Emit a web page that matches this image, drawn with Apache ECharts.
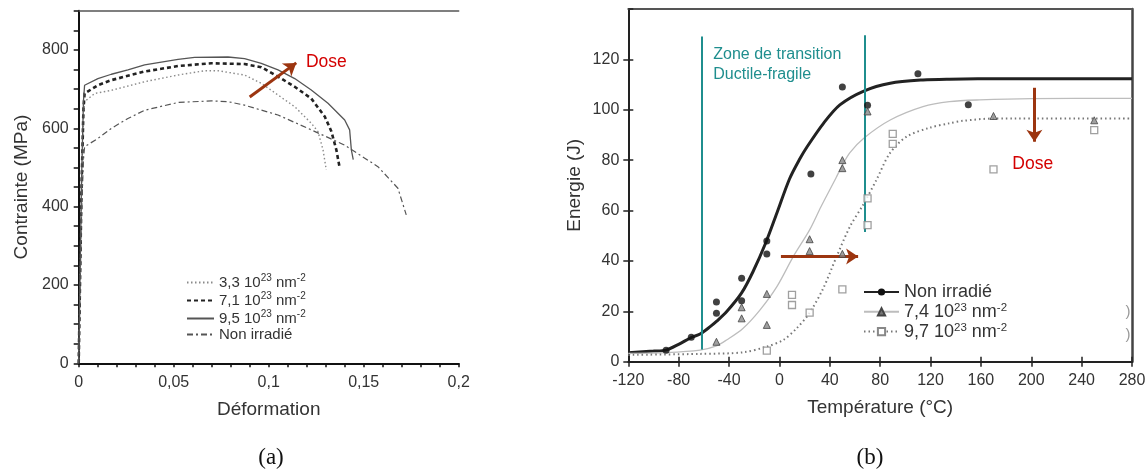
<!DOCTYPE html>
<html>
<head>
<meta charset="utf-8">
<script src="https://cdn.jsdelivr.net/npm/echarts@6/dist/echarts.min.js"></script>
<style>
  html, body { margin: 0; padding: 0; background: #fff; }
  #chart { width: 1148px; height: 470px; }
</style>
</head>
<body>
<div id="chart"></div>
<script>
// ---------- (a) Tensile curves : [strain, stress (MPa)] ----------
const strainTicks = ['0', '0,05', '0,1', '0,15', '0,2'];
const stressTicks = [0, 200, 400, 600, 800];

const curveDose33 = [[0,0],[0.0015,450],[0.0025,630],[0.0031,668],[0.0084,689],[0.0172,697],[0.0347,719],[0.0523,736],[0.0663,747],[0.0733,747],[0.0873,736],[0.0961,715],[0.1049,685],[0.1137,655],[0.1224,613],[0.1259,592],[0.1286,545],[0.1303,494]];
const curveDose71 = [[0,0],[0.0015,450],[0.0025,650],[0.0031,689],[0.0101,710],[0.0172,723],[0.0347,745],[0.0523,759],[0.0698,766],[0.0873,764],[0.0961,756],[0.1049,732],[0.1137,706],[0.1224,676],[0.1295,630],[0.1330,592],[0.1356,545],[0.1374,498]];
const curveDose95 = [[0,0],[0.0015,470],[0.0025,670],[0.0031,710],[0.0101,727],[0.0172,738],[0.0259,749],[0.0347,762],[0.0523,776],[0.0610,781],[0.0786,782],[0.0873,778],[0.0961,766],[0.1049,749],[0.1137,727],[0.1224,698],[0.1312,664],[0.1400,621],[0.1426,596],[0.1435,545],[0.1445,520]];
const curveUnirr = [[0,0],[0.0015,380],[0.0025,520],[0.0031,553],[0.0101,574],[0.0172,600],[0.0259,625],[0.0347,646],[0.0523,666],[0.0698,670],[0.0786,668],[0.0873,659],[0.1049,634],[0.1224,596],[0.1400,557],[0.1575,502],[0.1680,447],[0.1724,379]];

// arrow showing the effect of dose on the tensile curves
const doseArrowA = [[0.0900, 680], [0.1145, 767]];
const doseLabelA = [0.1196, 770];

// ---------- (b) Charpy curves : [temperature (°C), energy (J)] ----------
const fitUnirr = [[-120,3.6],[-100,4.2],[-90,4.6],[-80,6.9],[-70,9.6],[-63,11],[-55,13.9],[-50,16],[-42,19.8],[-30,27.3],[-21,35.7],[-11,47],[-2,59],[8,72.5],[16,80.3],[22,85.3],[35,94.6],[48,101.9],[67,107.4],[88,110.5],[114,111.8],[135,112.1],[180,112.3],[280,112.3]];
const fitDose74 = [[-120,3.3],[-90,3.6],[-63,4.6],[-50,6.3],[-42,8.6],[-29,13.2],[-15.5,20.5],[-2,29.8],[11,41.7],[24,52.3],[33,61.5],[45,73],[50,78],[56,83],[67,88.7],[88,95.9],[114,101.2],[135,103.2],[159,103.9],[200,104.4],[280,104.5]];
const fitDose97 = [[-120,2.7],[-63,3.1],[-29,3.7],[-10,6],[3,8.6],[13.6,13.2],[23.7,19.2],[34.8,29.1],[45.4,41.7],[56,53.6],[66.5,62.3],[77,72.1],[87.7,82.7],[101,89.3],[119,92.8],[135,94.6],[146,95.6],[170,96.5],[280,96.5]];

const pointsUnirr = [[-90,4.5],[-70,9.7],[-50,23.7],[-50,19.2],[-30,33.1],[-30,24.2],[-10,47.9],[-10,42.7],[25,74.5],[50,109],[70,101.8],[110,114.3],[150,102]];
const pointsDose74 = [[-50,7.9],[-30,21.6],[-30,17.2],[-10,26.9],[-10,14.6],[24,48.6],[24,43.9],[50,42.8],[50,80],[50,76.8],[70,99.3],[170,97.5],[250,95.8]];
const pointsDose97 = [[-10,4.4],[10,26.5],[10,22.5],[24,19.5],[50,28.7],[70,64.8],[70,54.2],[90,90.4],[90,86.4],[170,76.3],[250,91.9]];

// ductile-brittle transition zone limits and dose arrows
const transitionLines = [[[-62, 4.8], [-62, 129]], [[68, 51.5], [68, 129.5]]];
const transitionLabel = [-52.5, 117.9];
const doseArrowShift = [[1.2, 41.7], [62.5, 41.7]];
const doseArrowDrop = [[202.5, 108.7], [202.5, 87.3]];
const doseLabelB = [201.2, 78.5];

// legend texts: [fluence mantissa] -> "x,x 10^23 nm^-2"
const legendA = { a33: '3,3', a71: '7,1', a95: '9,5', a0: null };
const legendB = { b0: null, b74: '7,4', b97: '9,7' };

const FONT = '"Liberation Sans", Arial, sans-serif';
const TXT = '#333';
const TEAL = '#1f8e8e';
const BROWN = '#9c3510';

const chart = echarts.init(document.getElementById('chart'), null, { renderer: 'canvas' });

function fluenceText(v) {
  return v === null ? '{n|Non irradié}' : '{n|' + v + ' 10}{s|23}{n| nm}{s|-2}';
}

function arrowLine(pair) {
  return {
    silent: true,
    symbol: ['none', 'arrow'],
    symbolSize: 12,
    label: { show: false },
    emphasis: { disabled: true },
    lineStyle: { color: BROWN, width: 3, type: 'solid' },
    data: [[{ coord: pair[0] }, { coord: pair[1] }]]
  };
}

const gridA = { left: 78.7, top: 10.8, width: 380, height: 352.5, outerBoundsMode: 'none', containLabel: false };
const gridB = { left: 628.3, top: 8.9, width: 503.7, height: 352.8, outerBoundsMode: 'none', containLabel: false };

const axisLabelStyle = { color: TXT, fontFamily: FONT, fontSize: 16 };
const nameStyle = { color: TXT, fontFamily: FONT, fontSize: 19 };

const option = {
  animation: false,
  backgroundColor: '#fff',
  grid: [gridA, gridB, Object.assign({}, gridB)],
  xAxis: [
    { // (a) strain
      type: 'value', gridIndex: 0, position: 'bottom', min: 0, max: 0.2, interval: 0.01,
      name: 'Déformation', nameLocation: 'middle', nameGap: 37, nameTextStyle: nameStyle,
      axisLine: { show: true, onZero: false, lineStyle: { color: '#111', width: 2 } },
      axisTick: { show: true, inside: false, length: 4, lineStyle: { color: '#111', width: 1.5 } },
      axisLabel: Object.assign({ margin: 11, formatter: (v, i) => (i % 5 === 0 ? strainTicks[i / 5] : '') }, axisLabelStyle),
      splitLine: { show: false }
    },
    { // (a) top frame line
      type: 'value', gridIndex: 0, position: 'top', min: 0, max: 0.2,
      axisLine: { show: true, onZero: false, lineStyle: { color: '#555', width: 1.5 } },
      axisTick: { show: false }, axisLabel: { show: false }, splitLine: { show: false }
    },
    { // (b) temperature
      type: 'value', gridIndex: 1, position: 'bottom', min: -120, max: 280, interval: 40,
      name: 'Température (°C)', nameLocation: 'middle', nameGap: 37, nameTextStyle: nameStyle,
      axisLine: { show: true, onZero: false, lineStyle: { color: '#222', width: 2 } },
      axisTick: { show: true, inside: false, length: 5, lineStyle: { color: '#222', width: 1.5 } },
      axisLabel: Object.assign({ margin: 11 }, axisLabelStyle),
      splitLine: { show: false }
    },
    { // (b) top frame line
      type: 'value', gridIndex: 1, position: 'top', min: -120, max: 280,
      axisLine: { show: true, onZero: false, lineStyle: { color: '#555', width: 2 } },
      axisTick: { show: false }, axisLabel: { show: false }, splitLine: { show: false }
    },
    { // (b) inner half of the crossing ticks
      type: 'value', gridIndex: 2, position: 'bottom', min: -120, max: 280, interval: 40,
      axisLine: { show: false, onZero: false },
      axisTick: { show: true, inside: true, length: 5, lineStyle: { color: '#222', width: 1.5 } },
      axisLabel: { show: false }, splitLine: { show: false }
    }
  ],
  yAxis: [
    { // (a) stress
      type: 'value', gridIndex: 0, position: 'left', min: 0, max: 900, interval: 50,
      name: 'Contrainte (MPa)', nameLocation: 'middle', nameGap: 47, nameTextStyle: nameStyle,
      axisLine: { show: true, onZero: false, lineStyle: { color: '#111', width: 2 } },
      axisTick: { show: true, inside: false, length: 5, lineStyle: { color: '#111', width: 1.5 } },
      axisLabel: Object.assign({ margin: 10, formatter: v => (stressTicks.indexOf(v) >= 0 ? String(v) : '') }, axisLabelStyle),
      splitLine: { show: false }
    },
    { // (b) energy
      type: 'value', gridIndex: 1, position: 'left', min: 0, max: 140, interval: 20,
      name: 'Energie (J)', nameLocation: 'middle', nameGap: 44, nameTextStyle: nameStyle,
      axisLine: { show: true, onZero: false, lineStyle: { color: '#222', width: 2 } },
      axisTick: { show: true, inside: false, length: 5, lineStyle: { color: '#222', width: 1.5 } },
      axisLabel: Object.assign({ margin: 9, showMaxLabel: false }, axisLabelStyle),
      splitLine: { show: false }
    },
    { // (b) right frame line
      type: 'value', gridIndex: 1, position: 'right', min: 0, max: 140,
      axisLine: { show: true, onZero: false, lineStyle: { color: '#444', width: 2.5 } },
      axisTick: { show: false }, axisLabel: { show: false }, splitLine: { show: false }
    },
    { // (b) inner half of the crossing ticks
      type: 'value', gridIndex: 2, position: 'left', min: 0, max: 140, interval: 20,
      axisLine: { show: false, onZero: false },
      axisTick: { show: true, inside: true, length: 5, lineStyle: { color: '#222', width: 1.5 } },
      axisLabel: { show: false }, splitLine: { show: false }
    }
  ],
  legend: [
    {
      data: ['a33', 'a71', 'a95', 'a0'],
      orient: 'vertical', left: 181, top: 268, itemWidth: 27, itemHeight: 10, itemGap: 1,
      selectedMode: false,
      itemStyle: { opacity: 0 },
      formatter: name => fluenceText(legendA[name]),
      textStyle: {
        color: TXT, fontFamily: FONT, padding: [0, 0, 0, 0],
        rich: {
          n: { fontSize: 15, lineHeight: 19, fontFamily: FONT, color: TXT },
          s: { fontSize: 10, lineHeight: 12, verticalAlign: 'top', fontFamily: FONT, color: TXT }
        }
      }
    },
    {
      data: ['b0', 'b74', 'b97'],
      orient: 'vertical', left: 858, top: 278, itemWidth: 35, itemHeight: 9, itemGap: 0.8,
      selectedMode: false,
      formatter: name => fluenceText(legendB[name]),
      textStyle: {
        color: TXT, fontFamily: FONT, padding: [0, 0, 0, 0],
        rich: {
          n: { fontSize: 18, lineHeight: 20, fontFamily: FONT, color: TXT },
          s: { fontSize: 11.5, lineHeight: 13, verticalAlign: 'top', fontFamily: FONT, color: TXT }
        }
      }
    }
  ],
  series: [
    // ---- (a) ----
    {
      name: 'a33', type: 'line', xAxisIndex: 0, yAxisIndex: 0, data: curveDose33, symbol: 'none',
      lineStyle: { color: '#8a8a8a', width: 1.4, type: [1.5, 2.5] }, silent: true
    },
    {
      name: 'a71', type: 'line', xAxisIndex: 0, yAxisIndex: 0, data: curveDose71, symbol: 'none',
      lineStyle: { color: '#222', width: 2.6, type: [4, 3] }, silent: true
    },
    {
      name: 'a95', type: 'line', xAxisIndex: 0, yAxisIndex: 0, data: curveDose95, symbol: 'none',
      lineStyle: { color: '#555', width: 1.3 }, silent: true,
      markLine: arrowLine(doseArrowA)
    },
    {
      name: 'a0', type: 'line', xAxisIndex: 0, yAxisIndex: 0, data: curveUnirr, symbol: 'none',
      lineStyle: { color: '#555', width: 1.2, type: [6, 3, 2, 3] }, silent: true
    },
    // ---- (b) fitted curves ----
    {
      name: 'b0', type: 'line', xAxisIndex: 2, yAxisIndex: 1, data: fitUnirr, smooth: 0.3,
      symbol: 'circle', symbolSize: 6, showSymbol: false, silent: true,
      itemStyle: { color: '#111' },
      lineStyle: { color: '#222', width: 3 },
      markLine: {
        silent: true, symbol: ['none', 'none'], label: { show: false }, emphasis: { disabled: true },
        lineStyle: { color: TEAL, width: 2, type: 'solid' },
        data: transitionLines.map(p => [{ coord: p[0] }, { coord: p[1] }])
      }
    },
    {
      name: 'b74', type: 'line', xAxisIndex: 2, yAxisIndex: 1, data: fitDose74, smooth: 0.3,
      symbol: 'triangle', symbolSize: 7, showSymbol: false, silent: true,
      itemStyle: { color: '#777', borderColor: '#444', borderWidth: 1 },
      lineStyle: { color: '#bdbdbd', width: 1.3 },
      markLine: arrowLine(doseArrowShift)
    },
    {
      name: 'b97', type: 'line', xAxisIndex: 2, yAxisIndex: 1, data: fitDose97, smooth: 0.3,
      symbol: 'rect', symbolSize: 7, showSymbol: false, silent: true,
      itemStyle: { color: '#fff', borderColor: '#888', borderWidth: 1.3 },
      lineStyle: { color: '#777', width: 2, type: [1.5, 3] },
      markLine: arrowLine(doseArrowDrop)
    },
    // ---- (b) measured points ----
    {
      name: 'p0', type: 'scatter', xAxisIndex: 2, yAxisIndex: 1, data: pointsUnirr, z: 5,
      symbol: 'circle', symbolSize: 7, silent: true, itemStyle: { color: '#111' }
    },
    {
      name: 'p74', type: 'scatter', xAxisIndex: 2, yAxisIndex: 1, data: pointsDose74, z: 5,
      symbol: 'triangle', symbolSize: 7, silent: true,
      itemStyle: { color: '#888', borderColor: '#444', borderWidth: 1 }
    },
    {
      name: 'p97', type: 'scatter', xAxisIndex: 2, yAxisIndex: 1, data: pointsDose97, z: 5,
      symbol: 'rect', symbolSize: 7, silent: true,
      itemStyle: { color: '#fff', borderColor: '#888', borderWidth: 1.3 }
    }
  ]
};

chart.setOption(option);

// annotations anchored to data coordinates
const pA = chart.convertToPixel({ gridIndex: 0 }, doseLabelA);
const pB = chart.convertToPixel({ gridIndex: 1 }, doseLabelB);
const pT = chart.convertToPixel({ gridIndex: 1 }, transitionLabel);

chart.setOption({
  graphic: [
    { type: 'text', x: pA[0], y: pA[1], silent: true,
      style: { text: 'Dose', fill: '#d40000', font: '17.5px ' + FONT, textAlign: 'left', textVerticalAlign: 'middle' } },
    { type: 'text', x: pB[0], y: pB[1], silent: true,
      style: { text: 'Dose', fill: '#d40000', font: '17.5px ' + FONT, textAlign: 'center', textVerticalAlign: 'middle' } },
    { type: 'text', x: pT[0], y: pT[1], silent: true,
      style: { text: 'Zone de transition\nDuctile-fragile', fill: TEAL, font: '16px ' + FONT, lineHeight: 19.3,
               textAlign: 'left', textVerticalAlign: 'middle' } },
    { type: 'text', x: 1128, y: 312, silent: true,
      style: { text: ')', fill: '#999', font: '15px ' + FONT, textAlign: 'center', textVerticalAlign: 'middle' } },
    { type: 'text', x: 1128, y: 335, silent: true,
      style: { text: ')', fill: '#999', font: '15px ' + FONT, textAlign: 'center', textVerticalAlign: 'middle' } },
    { type: 'text', x: 271, y: 458, silent: true,
      style: { text: '(a)', fill: '#111', font: '23px "Liberation Serif", "Times New Roman", serif', textAlign: 'center', textVerticalAlign: 'middle' } },
    { type: 'text', x: 870, y: 458, silent: true,
      style: { text: '(b)', fill: '#111', font: '23px "Liberation Serif", "Times New Roman", serif', textAlign: 'center', textVerticalAlign: 'middle' } }
  ]
});
</script>
</body>
</html>
